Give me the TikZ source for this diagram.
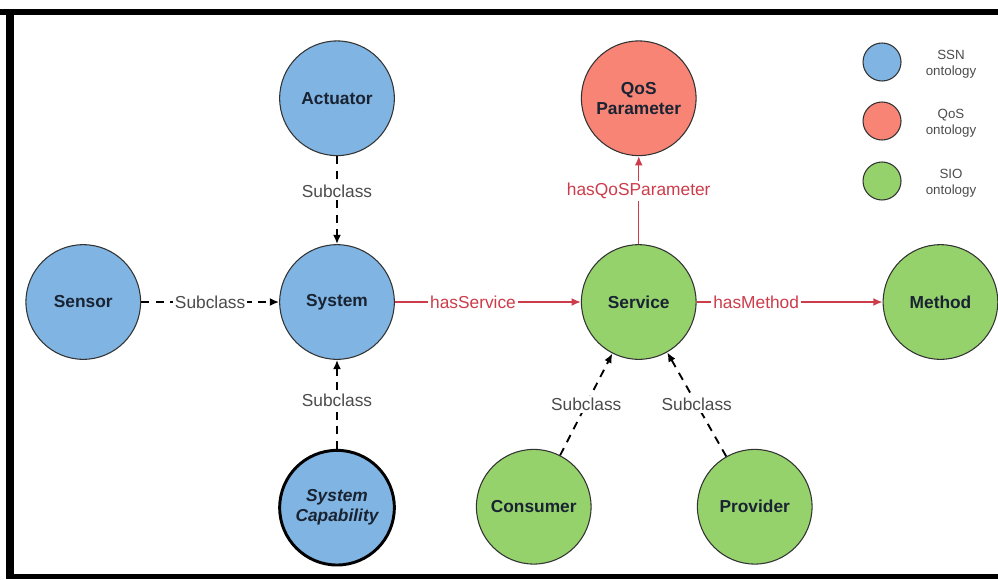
\documentclass[tikz,border=0pt]{standalone}
\usepackage{fontspec}
\setmainfont{Liberation Sans}
\usetikzlibrary{positioning,arrows.meta}

\definecolor{ssnblue}{RGB}{128,180,226}
\definecolor{qosred}{RGB}{248,132,118}
\definecolor{siogreen}{RGB}{150,210,108}
\definecolor{relred}{RGB}{205,60,75}
\definecolor{nodetext}{RGB}{25,35,50}
\definecolor{labelgray}{RGB}{75,75,75}

\begin{document}
\begin{tikzpicture}[x=0.75pt,y=-0.75pt,
concept/.style={circle, draw=black!80, line width=0.8pt, minimum size=86pt, inner sep=0pt, align=center, font=\fontsize{13}{15}\selectfont\bfseries, text=nodetext},
ssn/.style={concept, fill=ssnblue},
qos/.style={concept, fill=qosred},
sio/.style={concept, fill=siogreen},
legdot/.style={circle, draw=black!80, line width=0.8pt, minimum size=28.5pt, inner sep=0pt},
legtext/.style={align=center, font=\fontsize{10}{12}\selectfont, text=labelgray},
sub/.style={-{Latex[length=7pt,width=6pt]}, line width=1.4pt, dash pattern=on 6pt off 5pt},
rel/.style={-{Latex[length=7pt,width=6pt]}, line width=1.1pt, draw=relred},
lbl/.style={fill=white, inner sep=1.5pt, font=\fontsize{13}{15}\selectfont, text=labelgray},
rlbl/.style={lbl, text=relred}
]
\useasboundingbox (0,0) rectangle (998,579);
% frame
\fill (0,9) rectangle (998,15);
\fill (6,9) rectangle (14,579);
\fill (6,574) rectangle (998,579);

% SSN part
\node[ssn] (system) at (337,302) {System};
\node[ssn, above=66pt of system] (actuator) {Actuator};
\node[ssn, left=103.5pt of system] (sensor) {Sensor};
\node[ssn, below=66.75pt of system, line width=2.2pt, draw=black, font=\fontsize{13}{15}\selectfont\bfseries\itshape] (syscap) {System\\Capability};

% SIO and QoS part
\node[sio, right=139.5pt of system] (service) {Service};
\node[qos, above=66pt of service] (qosparam) {QoS\\Parameter};
\node[sio, right=139.5pt of service] (method) {Method};
\node[sio, below=66.75pt of service, xshift=-78.75pt] (consumer) {Consumer};
\node[sio, below=66.75pt of service, xshift=87pt] (provider) {Provider};

% legend
\node[legdot, fill=ssnblue] (legssn) at (882,62) {};
\node[legdot, fill=qosred] (legqos) at (882,121) {};
\node[legdot, fill=siogreen] (legsio) at (882,181) {};
\node[legtext] (txtssn) at (951,64) {SSN\\ontology};
\node[legtext] (txtqos) at (951,123) {QoS\\ontology};
\node[legtext] (txtsio) at (951,183) {SIO\\ontology};

% subclass links
\draw[sub] (actuator) -- node[lbl, pos=0.4] {Subclass} (system);
\draw[sub] (sensor) -- node[lbl] {Subclass} (system);
\draw[sub] (syscap) -- node[lbl, pos=0.55] {Subclass} (system);
\draw[sub] (consumer) -- node[lbl] {Subclass} (service);
\draw[sub] (provider) -- node[lbl] {Subclass} (service);

% properties
\draw[rel] (system) -- node[rlbl, pos=0.42] {hasService} (service);
\draw[rel] (service) -- node[rlbl, pos=0.6] {hasQoSParameter} (qosparam);
\draw[rel] (service) -- node[rlbl, pos=0.32] {hasMethod} (method);
\end{tikzpicture}
\end{document}
